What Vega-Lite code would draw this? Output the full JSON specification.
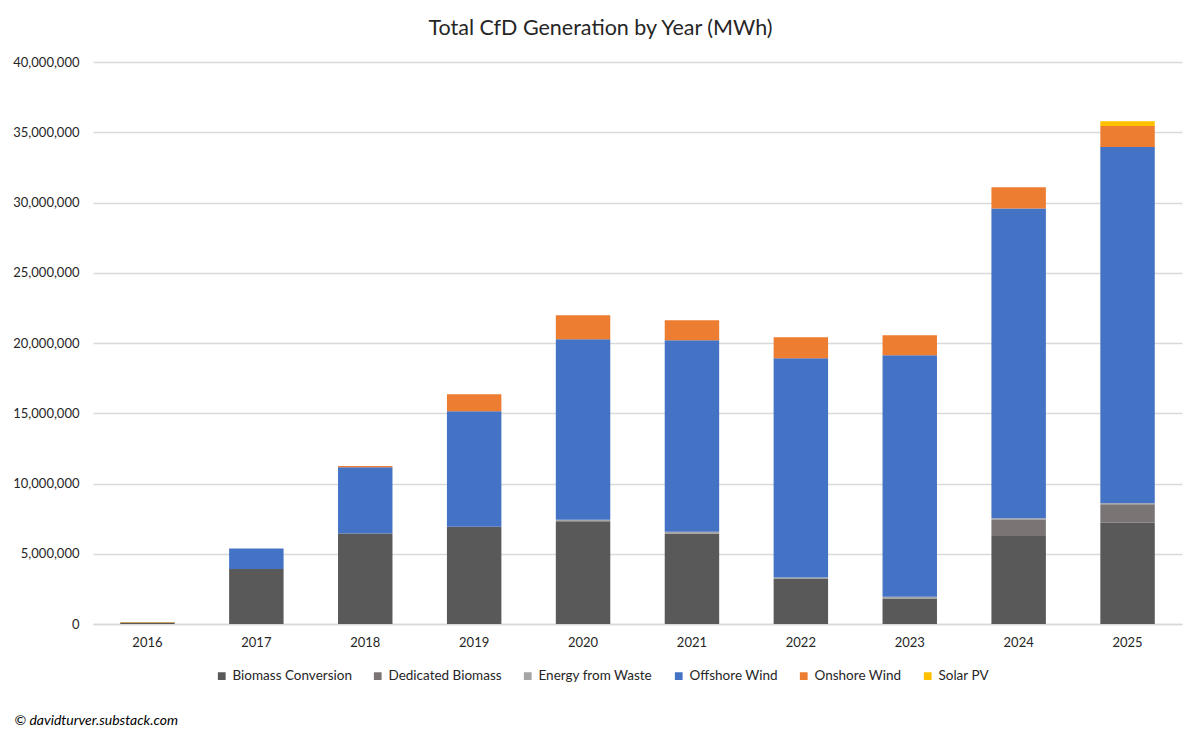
{
  "$schema": "https://vega.github.io/schema/vega-lite/v6.json",
  "width": 1089,
  "height": 562,
  "autosize": {"type": "none"},
  "padding": {"left": 93, "top": 62, "right": 18, "bottom": 110},
  "background": "white",
  "title": {
    "text": "Total CfD Generation by Year (MWh)",
    "fontSize": 21.5,
    "font": "Lato",
    "fontWeight": "normal",
    "color": "#262626",
    "anchor": "middle",
    "dx": -37,
    "offset": 17
  },
  "data": {
    "values": [
      {"year": "2016", "source": "Biomass Conversion", "mwh": 110000},
      {"year": "2016", "source": "Onshore Wind", "mwh": 20000},
      {"year": "2016", "source": "Solar PV", "mwh": 10000},
      {"year": "2017", "source": "Biomass Conversion", "mwh": 3910000},
      {"year": "2017", "source": "Offshore Wind", "mwh": 1470000},
      {"year": "2018", "source": "Biomass Conversion", "mwh": 6450000},
      {"year": "2018", "source": "Offshore Wind", "mwh": 4700000},
      {"year": "2018", "source": "Onshore Wind", "mwh": 90000},
      {"year": "2019", "source": "Biomass Conversion", "mwh": 6920000},
      {"year": "2019", "source": "Offshore Wind", "mwh": 8230000},
      {"year": "2019", "source": "Onshore Wind", "mwh": 1210000},
      {"year": "2020", "source": "Biomass Conversion", "mwh": 7320000},
      {"year": "2020", "source": "Energy from Waste", "mwh": 100000},
      {"year": "2020", "source": "Offshore Wind", "mwh": 12850000},
      {"year": "2020", "source": "Onshore Wind", "mwh": 1710000},
      {"year": "2021", "source": "Biomass Conversion", "mwh": 6450000},
      {"year": "2021", "source": "Energy from Waste", "mwh": 110000},
      {"year": "2021", "source": "Offshore Wind", "mwh": 13640000},
      {"year": "2021", "source": "Onshore Wind", "mwh": 1420000},
      {"year": "2022", "source": "Biomass Conversion", "mwh": 3200000},
      {"year": "2022", "source": "Energy from Waste", "mwh": 110000},
      {"year": "2022", "source": "Offshore Wind", "mwh": 15610000},
      {"year": "2022", "source": "Onshore Wind", "mwh": 1490000},
      {"year": "2023", "source": "Biomass Conversion", "mwh": 1780000},
      {"year": "2023", "source": "Energy from Waste", "mwh": 160000},
      {"year": "2023", "source": "Offshore Wind", "mwh": 17190000},
      {"year": "2023", "source": "Onshore Wind", "mwh": 1420000},
      {"year": "2024", "source": "Biomass Conversion", "mwh": 6260000},
      {"year": "2024", "source": "Dedicated Biomass", "mwh": 1140000},
      {"year": "2024", "source": "Energy from Waste", "mwh": 120000},
      {"year": "2024", "source": "Offshore Wind", "mwh": 22060000},
      {"year": "2024", "source": "Onshore Wind", "mwh": 1510000},
      {"year": "2025", "source": "Biomass Conversion", "mwh": 7210000},
      {"year": "2025", "source": "Dedicated Biomass", "mwh": 1320000},
      {"year": "2025", "source": "Energy from Waste", "mwh": 70000},
      {"year": "2025", "source": "Offshore Wind", "mwh": 25350000},
      {"year": "2025", "source": "Onshore Wind", "mwh": 1490000},
      {"year": "2025", "source": "Solar PV", "mwh": 340000}
    ]
  },
  "mark": {"type": "bar"},
  "encoding": {
    "x": {
      "field": "year",
      "type": "ordinal",
      "scale": {"paddingInner": 0.5, "paddingOuter": 0.25},
      "axis": {
        "title": "© davidturver.substack.com",
        "titleFont": "Lato",
        "titleFontSize": 14,
        "titleFontStyle": "italic",
        "titleFontWeight": "normal",
        "titleColor": "#000000",
        "titleAnchor": "start",
        "titleAlign": "left",
        "titleBaseline": "alphabetic",
        "titleX": -79,
        "titleY": 100,
        "labelAngle": 0,
        "labelFont": "Lato",
        "labelFontSize": 13,
        "labelColor": "#262626",
        "labelPadding": 12,
        "ticks": false,
        "domainColor": "#d9d9d9",
        "domainWidth": 1.5
      }
    },
    "y": {
      "field": "mwh",
      "type": "quantitative",
      "aggregate": "sum",
      "stack": "zero",
      "scale": {"domain": [0, 40000000]},
      "axis": {
        "title": null,
        "values": [0, 5000000, 10000000, 15000000, 20000000, 25000000, 30000000, 35000000, 40000000],
        "format": ",d",
        "labelFont": "Lato",
        "labelFontSize": 13,
        "labelColor": "#262626",
        "labelPadding": 14,
        "ticks": false,
        "domain": false,
        "gridColor": "#d9d9d9",
        "gridWidth": 1.5
      }
    },
    "color": {
      "field": "source",
      "type": "nominal",
      "scale": {
        "domain": ["Biomass Conversion", "Dedicated Biomass", "Energy from Waste", "Offshore Wind", "Onshore Wind", "Solar PV"],
        "range": ["#595959", "#7a7574", "#a5a5a5", "#4472c4", "#ed7d31", "#ffc000"]
      },
      "legend": {
        "title": null,
        "orient": "none",
        "direction": "horizontal",
        "legendX": 122,
        "legendY": 607,
        "symbolType": "square",
        "symbolSize": 60,
        "symbolStrokeWidth": 0,
        "labelFont": "Lato",
        "labelFontSize": 13.5,
        "labelColor": "#262626",
        "labelOffset": 4,
        "columnPadding": 19
      }
    },
    "order": {"field": "source", "sort": "ascending"}
  },
  "config": {
    "view": {"stroke": null}
  }
}
